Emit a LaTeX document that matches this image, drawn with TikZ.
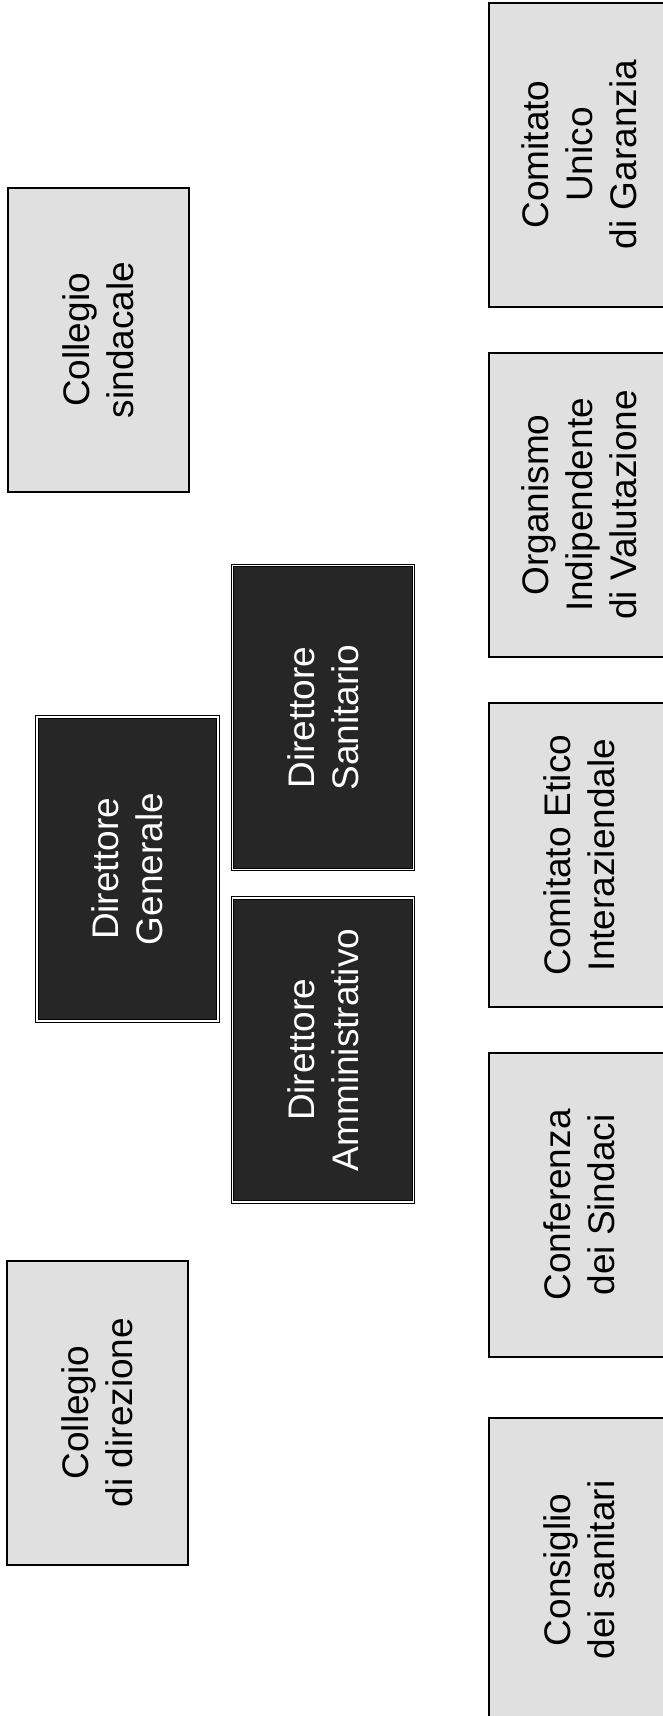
\documentclass[tikz,border=0pt]{standalone}
\usepackage{fontspec}
\setmainfont{Liberation Sans}
\usetikzlibrary{patterns.meta}
\tikzdeclarepattern{
  name=halftone,
  type=uncolored,
  bounding box={(-4pt,-4pt) and (4pt,4pt)},
  tile size={(8pt,8pt)},
  code={\pgfpathcircle{\pgfpointorigin}{1.1pt}\pgfusepath{fill}}
}
\begin{document}
\begin{tikzpicture}[x=1pt,y=-1pt,
  basebox/.style={rotate=90, minimum width=304pt, minimum height=181pt, inner sep=0pt,
    align=center, font=\fontsize{37}{44}\selectfont},
  lightbox/.style={basebox, draw=black, line width=2pt, fill=black!12, text=black,
    preaction={pattern=halftone, pattern color=black!45}},
  darkbox/.style={basebox, draw=black, line width=1pt, double=white, double distance=1.5pt,
    fill=black!85, text=white},
]
\useasboundingbox (0,0) rectangle (663,1716);
\clip (0,0) rectangle (663,1716);
% left column
\node[lightbox] (cs) at (98.5,340) {Collegio\\sindacale};
\node[lightbox] (cd) at (97.5,1412.5) {Collegio\\di direzione};
% direzione
\node[darkbox] (dg) at (127.5,869) {Direttore\\Generale};
\node[darkbox] (ds) at (323,717.5) {Direttore\\Sanitario};
\node[darkbox] (da) at (323,1050) {Direttore\\Amministrativo};
% right column
\node[lightbox] (cug) at (579.5,154.5) {Comitato\\Unico\\di Garanzia};
\node[lightbox] (oiv) at (579.5,505) {Organismo\\Indipendente\\di Valutazione};
\node[lightbox] (ce) at (579.5,855) {Comitato Etico\\Interaziendale};
\node[lightbox] (cds) at (579.5,1205) {Conferenza\\dei Sindaci};
\node[lightbox] (cons) at (579.5,1570) {Consiglio\\dei sanitari};
\end{tikzpicture}
\end{document}
